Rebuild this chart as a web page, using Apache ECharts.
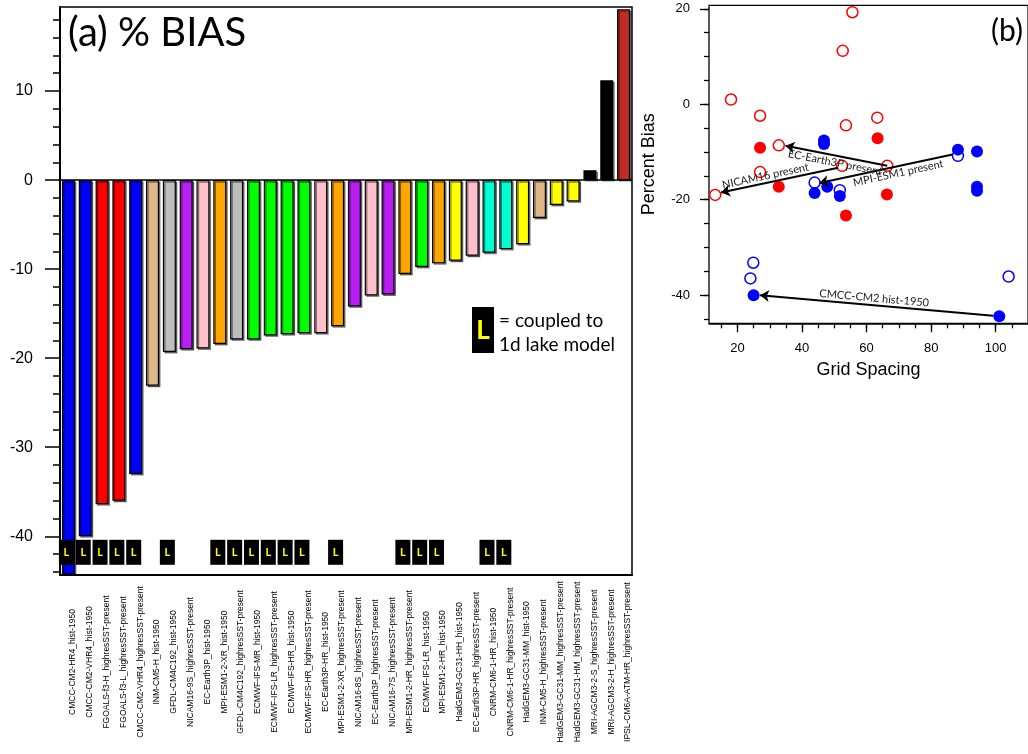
<!DOCTYPE html>
<html><head><meta charset="utf-8">
<script src="https://cdn.jsdelivr.net/npm/echarts@6/dist/echarts.min.js"></script>
<style>html,body{margin:0;padding:0;background:#fff}#c{width:1028px;height:754px}</style>
</head><body><div id="c"></div>
<script>
// ---------- Panel (a) data ----------
const models = [
  'CMCC-CM2-HR4_hist-1950','CMCC-CM2-VHR4_hist-1950','FGOALS-f3-H_highresSST-present',
  'FGOALS-f3-L_highresSST-present','CMCC-CM2-VHR4_highresSST-present','INM-CM5-H_hist-1950',
  'GFDL-CM4C192_hist-1950','NICAM16-9S_highresSST-present','EC-Earth3P_hist-1950',
  'MPI-ESM1-2-XR_hist-1950','GFDL-CM4C192_highresSST-present','ECMWF-IFS-MR_hist-1950',
  'ECMWF-IFS-LR_highresSST-present','ECMWF-IFS-HR_hist-1950','ECMWF-IFS-HR_highresSST-present',
  'EC-Earth3P-HR_hist-1950','MPI-ESM1-2-XR_highresSST-present','NICAM16-8S_highresSST-present',
  'EC-Earth3P_highresSST-present','NICAM16-7S_highresSST-present','MPI-ESM1-2-HR_highresSST-present',
  'ECMWF-IFS-LR_hist-1950','MPI-ESM1-2-HR_hist-1950','HadGEM3-GC31-HH_hist-1950',
  'EC-Earth3P-HR_highresSST-present','CNRM-CM6-1-HR_hist-1950','CNRM-CM6-1-HR_highresSST-present',
  'HadGEM3-GC31-MM_hist-1950','INM-CM5-H_highresSST-present','HadGEM3-GC31-MM_highresSST-present',
  'HadGEM3-GC31-HM_highresSST-present','MRI-AGCM3-2-S_highresSST-present','MRI-AGCM3-2-H_highresSST-present',
  'IPSL-CM6A-ATM-HR_highresSST-present'
];
const biasPct = [
  -44.3, -40.0, -36.4, -36.0, -33.0, -23.1, -19.3, -19.0, -18.9, -18.4,
  -17.9, -17.9, -17.45, -17.3, -17.2, -17.2, -16.4, -14.2, -12.95, -12.85,
  -10.55, -9.75, -9.35, -9.05, -8.5, -8.15, -7.75, -7.2, -4.25, -2.8,
  -2.4, 1.1, 11.2, 19.2
];
const lakeCoupled = [1,1,1,1,1,0,1,0,0,1, 1,1,1,1,1,0,1,0,0,0, 1,1,1,0,0,1,1,0,0,0, 0,0,0,0];
const barYLabelTicks = [-40,-30,-20,-10,0,10];
const barYMinorTicks = [-44,-42,-40,-38,-36,-34,-32,-30,-28,-26,-24,-22,-20,-18,-16,-14,-12,-10,-8,-6,-4,-2,0,2,4,6,8,10,12,14,16,18];

// ---------- Panel (b) data ----------
const redOpen = [[55.6,19.3],[52.6,11.2],[18.0,1.0],[27.0,-2.4],[63.3,-2.8],[53.6,-4.4],[32.8,-8.6],[27.0,-14.2],[52.4,-12.9],[66.4,-12.9],[13.1,-19.0]];
const redFilled = [[27.0,-9.1],[63.4,-7.1],[32.8,-17.3],[66.3,-18.9],[53.6,-23.3]];
const blueOpen = [[88.3,-10.8],[51.7,-18.0],[43.9,-16.4],[24.9,-33.2],[24.0,-36.5],[104.0,-36.1]];
const blueFilled = [[46.8,-7.6],[46.8,-8.3],[88.3,-9.5],[94.2,-9.9],[94.2,-17.3],[94.2,-18.1],[43.9,-18.6],[47.8,-17.3],[51.7,-19.2],[25.0,-40.0],[101.1,-44.4]];
const arrowFrom = [[66.4,-12.9],[51.2,-13.3],[86.6,-10.5],[99.2,-44.3]];
const arrowTo   = [[34.9,-8.7],[14.9,-18.5],[45.4,-16.5],[27.0,-40.0]];
const arrowText = ['EC-Earth3P present','NICAM16 present','MPI-ESM1 present','CMCC-CM2 hist-1950'];
const scatXLabelTicks = [20,40,60,80,100];
const scatXMinorTicks = [15,20,25,30,35,40,45,50,55,60,65,70,75,80,85,90,95,100,105];
const scatYLabelTicks = [-40,-20,0,20];
const scatYMinorTicks = [-45,-40,-35,-30,-25,-20,-15,-10,-5,0,5,10,15,20];

// ---------- styles / layout ----------
const familyColors = [
  ['CMCC','#0000ff'],['FGOALS','#ff0000'],['INM','#deb887'],['GFDL','#bebebe'],
  ['NICAM','#b91ef2'],['EC-Earth','#ffc0cb'],['MPI','#ffa500'],['ECMWF','#00ff00'],
  ['HadGEM','#ffff00'],['CNRM','#00ffd2'],['MRI','#000000'],['IPSL','#c22a2a']
];
function colorFor(name){ for (const [k,c] of familyColors) if (name.startsWith(k)) return c; return '#888'; }
const LAKE_Y = -41.8;
const labelAbove = [false, true, false, true];   // arrow label side
const labelShift = [0, -13, 11, -3];             // px along the arrow
const LABEL_GAP = 7;

const SANS = 'Liberation Sans';
const HUM = 'Lato';

const chart = echarts.init(document.getElementById('c'), null, {renderer:'canvas'});

const baseGraphics = [
  {id: 'ta', type: 'text', left: 68, top: 13, z: 10,
   style: {text: '(a) % BIAS', font: '40px Lato', fill: '#000'}},
  {id: 'tb', type: 'text', left: 991, top: 16, z: 10,
   style: {text: '(b)', font: '30px Lato', fill: '#000'}},
  {id: 'lr', type: 'rect', shape: {x: 472, y: 307, width: 22, height: 46}, style: {fill: '#000'}, z: 10},
  {id: 'lL', type: 'text', x: 483, y: 331, z: 11,
   style: {text: 'L', font: 'bold 26px Lato', fill: '#ffff00', align: 'center', verticalAlign: 'middle'}},
  {id: 'l1', type: 'text', x: 499, y: 321, z: 10,
   style: {text: '= coupled to', font: '19px Lato', fill: '#000', verticalAlign: 'middle'}},
  {id: 'l2', type: 'text', x: 499, y: 345, z: 10,
   style: {text: '1d lake model', font: '19px Lato', fill: '#000', verticalAlign: 'middle'}}
];

const option = {
  animation: false,
  backgroundColor: '#fff',
  grid: [
    {left: 60, top: 7, right: 396, bottom: 179, show: true, borderColor: '#000', borderWidth: 1.5, backgroundColor: 'transparent'},
    {left: 709, top: 5.3, right: -17, bottom: 430.7, show: true, borderColor: '#000', borderWidth: 1.2, backgroundColor: 'transparent'}
  ],
  xAxis: [
    {type: 'category', gridIndex: 0, data: models, boundaryGap: true,
     axisLine: {onZero: false, lineStyle: {color: '#000', width: 2}},
     axisTick: {alignWithLabel: true, interval: 0, length: 13, lineStyle: {color: '#000', width: 1.5}},
     axisLabel: {interval: 0, rotate: 90, align: 'center', verticalAlign: 'top', margin: 87,
                 fontSize: 8.5, fontFamily: SANS, color: '#000'},
     splitLine: {show: false}},
    {type: 'value', gridIndex: 1, min: 11.18, max: 110, position: 'bottom',
     axisLine: {onZero: false, lineStyle: {color: '#000', width: 1.5}},
     axisTick: {customValues: scatXLabelTicks, length: 9, lineStyle: {color: '#000', width: 1.3}},
     axisLabel: {customValues: scatXLabelTicks, margin: 19, fontSize: 13, fontFamily: SANS, color: '#000'},
     splitLine: {show: false},
     name: 'Grid Spacing', nameLocation: 'middle', nameGap: 38,
     nameTextStyle: {fontSize: 18, fontFamily: SANS, color: '#000'}},
    {type: 'value', gridIndex: 1, min: 11.18, max: 110, position: 'bottom',
     axisLine: {show: false, onZero: false},
     axisTick: {customValues: scatXMinorTicks, length: 5, lineStyle: {color: '#000', width: 1.3}},
     axisLabel: {show: false}, splitLine: {show: false}}
  ],
  yAxis: [
    {type: 'value', gridIndex: 0, min: -44.35, max: 19.44, position: 'left',
     axisLine: {show: true, onZero: false, lineStyle: {color: '#000', width: 2}},
     axisTick: {show: true, customValues: barYLabelTicks, length: 15, lineStyle: {color: '#000', width: 1.5}},
     axisLabel: {customValues: barYLabelTicks, margin: 27, fontSize: 16, fontFamily: SANS, color: '#000'},
     splitLine: {show: false}},
    {type: 'value', gridIndex: 0, min: -44.35, max: 19.44, position: 'left', offset: 0,
     axisLine: {show: false, onZero: false},
     axisTick: {show: true, customValues: barYMinorTicks, length: 7, lineStyle: {color: '#000', width: 1.5}},
     axisLabel: {show: false}, splitLine: {show: false}},
    {type: 'value', gridIndex: 1, min: -45.9, max: 20.75, position: 'left',
     axisLine: {show: true, onZero: false, lineStyle: {color: '#555', width: 1.5}},
     axisTick: {show: true, customValues: scatYLabelTicks, length: 9, lineStyle: {color: '#000', width: 1.3}},
     axisLabel: {customValues: scatYLabelTicks, margin: 19, fontSize: 13, fontFamily: SANS, color: '#000'},
     splitLine: {show: false},
     name: 'Percent Bias', nameLocation: 'middle', nameGap: 51,
     nameTextStyle: {fontSize: 18, fontFamily: SANS, color: '#000'}},
    {type: 'value', gridIndex: 1, min: -45.9, max: 20.75, position: 'left', offset: 0,
     axisLine: {show: false, onZero: false},
     axisTick: {show: true, customValues: scatYMinorTicks, length: 5, lineStyle: {color: '#000', width: 1.3}},
     axisLabel: {show: false}, splitLine: {show: false}}
  ],
  series: [
    {type: 'bar', xAxisIndex: 0, yAxisIndex: 0, barWidth: 13, clip: true,
     data: biasPct.map((v, i) => ({value: v, itemStyle: {color: colorFor(models[i])}})),
     itemStyle: {borderColor: '#000', borderWidth: 1.2, shadowColor: 'rgba(0,0,0,0.45)', shadowBlur: 0.5, shadowOffsetX: 1.5, shadowOffsetY: 1.5},
     markLine: {silent: true, symbol: 'none', label: {show: false},
                lineStyle: {color: '#000', width: 1.5, type: 'solid'}, data: [{yAxis: 0}]},
     z: 2},
    {type: 'scatter', xAxisIndex: 0, yAxisIndex: 0, symbol: 'rect', symbolSize: [15, 25], symbolOffset: [-2, 0],
     itemStyle: {color: '#000', opacity: 1},
     label: {show: true, position: 'inside', formatter: 'L', color: '#ffff00', fontSize: 11, fontWeight: 'bold', fontFamily: HUM},
     data: lakeCoupled.map((f, i) => f ? [i, LAKE_Y] : null).filter(d => d),
     z: 5},
    {type: 'scatter', xAxisIndex: 1, yAxisIndex: 2, symbolSize: 11, data: redOpen,
     itemStyle: {color: '#fff', borderColor: '#ff0000', borderWidth: 1.5, opacity: 1}, z: 3},
    {type: 'scatter', xAxisIndex: 1, yAxisIndex: 2, symbolSize: 12, data: redFilled,
     itemStyle: {color: '#ff0000', opacity: 1}, z: 3},
    {type: 'scatter', xAxisIndex: 1, yAxisIndex: 2, symbolSize: 11, data: blueOpen,
     itemStyle: {color: '#fff', borderColor: '#0000ff', borderWidth: 1.5, opacity: 1}, z: 3},
    {type: 'scatter', xAxisIndex: 1, yAxisIndex: 2, symbolSize: 12, data: blueFilled,
     itemStyle: {color: '#0000ff', opacity: 1}, z: 3},
    {type: 'lines', coordinateSystem: 'cartesian2d', xAxisIndex: 1, yAxisIndex: 2,
     symbol: ['none', 'arrow'], symbolSize: 9, silent: true,
     lineStyle: {color: '#000', width: 2, opacity: 1, curveness: 0},
     label: {show: false},
     data: arrowFrom.map((f, i) => ({coords: [f, arrowTo[i]]})),
     z: 4}
  ],
  graphic: {elements: baseGraphics}
};
chart.setOption(option);

// Arrow labels placed along each arrow, positions obtained from the chart's own scales
const arrowLabels = arrowFrom.map((f, i) => {
  const p1 = chart.convertToPixel({xAxisIndex: 1, yAxisIndex: 2}, f);
  const p2 = chart.convertToPixel({xAxisIndex: 1, yAxisIndex: 2}, arrowTo[i]);
  const a = p1[0] < p2[0] ? p1 : p2, b = p1[0] < p2[0] ? p2 : p1;
  const th = Math.atan2(b[1] - a[1], b[0] - a[0]);
  const ux = Math.cos(th), uy = Math.sin(th);
  const nx = uy, ny = -ux; // screen-up normal
  const s = labelAbove[i] ? 1 : -1;
  const cx = (a[0] + b[0]) / 2 + ux * labelShift[i] + nx * LABEL_GAP * s;
  const cy = (a[1] + b[1]) / 2 + uy * labelShift[i] + ny * LABEL_GAP * s;
  return {id: 'al' + i, type: 'text', x: cx, y: cy, rotation: -th, z: 12,
          style: {text: arrowText[i], font: '11px Lato', fill: '#222', align: 'center', verticalAlign: 'middle'}};
});
chart.setOption({graphic: {elements: arrowLabels}});
</script>
</body></html>
